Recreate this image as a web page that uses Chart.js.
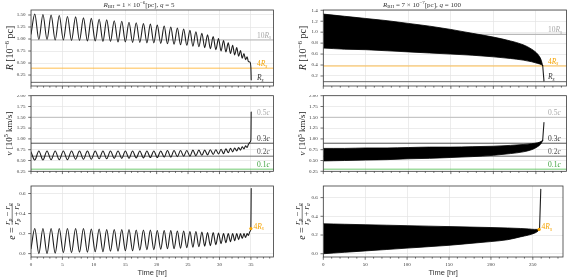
<!DOCTYPE html>
<html>
<head>
<meta charset="utf-8">
<script src="https://cdn.jsdelivr.net/npm/chart.js@4.4.1/dist/chart.umd.min.js"></script>
<style>
  html, body { margin: 0; padding: 0; background: #fff; }
  body { width: 567px; height: 279px; position: relative; overflow: hidden; }
  canvas { position: absolute; }
</style>
</head>
<body>
<canvas id="l0" width="283" height="95" style="left:0;top:0"></canvas>
<canvas id="r0" width="284" height="95" style="left:283px;top:0"></canvas>
<canvas id="l1" width="283" height="87" style="left:0;top:95px"></canvas>
<canvas id="r1" width="284" height="87" style="left:283px;top:95px"></canvas>
<canvas id="l2" width="283" height="97" style="left:0;top:182px"></canvas>
<canvas id="r2" width="284" height="97" style="left:283px;top:182px"></canvas>
<script>
// left run: R_BH = 1e-6 pc, q = 5  (turning points: start, then peak/trough pairs of R)
const leftTime = [0,
  0.6, 1.25,  1.9, 2.55,  3.2, 3.85,  4.5, 5.15,  5.8, 6.45,
  7.1, 7.72,  8.35, 8.98,  9.6, 10.22,  10.85, 11.45,  12.05, 12.65,
  13.25, 13.85,  14.45, 15.02,  15.6, 16.17,  16.75, 17.32,  17.9, 18.45,
  19.0, 19.55,  20.1, 20.65,  21.2, 21.72,  22.25, 22.77,  23.3, 23.8,
  24.3, 24.8,  25.3, 25.77,  26.25, 26.72,  27.2, 27.65,  28.1, 28.55,
  29.0, 29.42,  29.85, 30.25,  30.65, 31.02,  31.4, 31.75,  32.1, 32.42,
  32.75, 33.05,  33.35, 33.62,  33.9, 34.15,  34.4, 34.6,
  34.85, 35.0, 35.05];
const leftR = [1.10,
  1.52, 0.99,  1.51, 0.99,  1.50, 0.98,  1.49, 0.98,  1.47, 0.97,
  1.46, 0.97,  1.44, 0.96,  1.43, 0.96,  1.41, 0.95,  1.40, 0.95,
  1.38, 0.94,  1.37, 0.94,  1.35, 0.93,  1.34, 0.93,  1.32, 0.92,
  1.31, 0.92,  1.29, 0.91,  1.27, 0.90,  1.25, 0.89,  1.23, 0.88,
  1.21, 0.87,  1.18, 0.85,  1.15, 0.84,  1.12, 0.82,  1.09, 0.80,
  1.05, 0.78,  1.01, 0.75,  0.97, 0.73,  0.92, 0.70,  0.87, 0.67,
  0.82, 0.64,  0.76, 0.60,  0.70, 0.57,  0.63, 0.53,
  0.52, 0.40, 0.15];
const leftV = [0.70,
  0.51, 0.72,  0.51, 0.72,  0.52, 0.72,  0.52, 0.72,  0.52, 0.72,
  0.53, 0.72,  0.53, 0.72,  0.53, 0.72,  0.54, 0.72,  0.54, 0.72,
  0.55, 0.72,  0.55, 0.72,  0.55, 0.72,  0.56, 0.72,  0.56, 0.72,
  0.57, 0.72,  0.57, 0.72,  0.58, 0.73,  0.58, 0.73,  0.59, 0.73,
  0.60, 0.73,  0.60, 0.74,  0.61, 0.74,  0.62, 0.74,  0.63, 0.75,
  0.64, 0.75,  0.65, 0.76,  0.66, 0.77,  0.68, 0.78,  0.70, 0.79,
  0.72, 0.80,  0.74, 0.82,  0.77, 0.84,  0.80, 0.87,
  0.92, 0.97, 1.62];
const leftE = [0.05,
  0.25, 0.00,  0.25, 0.00,  0.25, 0.005,  0.25, 0.01,  0.25, 0.01,
  0.25, 0.015,  0.25, 0.015,  0.245, 0.02,  0.245, 0.02,  0.24, 0.025,
  0.24, 0.025,  0.24, 0.03,  0.24, 0.03,  0.235, 0.035,  0.235, 0.04,
  0.235, 0.04,  0.23, 0.045,  0.23, 0.05,  0.23, 0.05,  0.225, 0.055,
  0.225, 0.06,  0.22, 0.065,  0.22, 0.07,  0.215, 0.075,  0.21, 0.08,
  0.21, 0.09,  0.205, 0.10,  0.20, 0.11,  0.20, 0.12,  0.20, 0.13,
  0.20, 0.14,  0.20, 0.15,  0.20, 0.16,  0.20, 0.18,
  0.22, 0.25, 0.65];
const leftDot = [35.0, 0.25];

// right run: R_BH = 7e-7 pc, q = 100  (envelope of the dense oscillation)
const rightTime = [0, 25, 50, 75, 100, 125, 150, 175, 200, 220, 235, 245, 252, 256, 258];
const rightRUp  = [1.33, 1.29, 1.25, 1.21, 1.16, 1.11, 1.05, 0.98, 0.91, 0.84, 0.77, 0.69, 0.60, 0.50, 0.39];
const rightRLow = [0.71, 0.69, 0.68, 0.66, 0.64, 0.62, 0.60, 0.58, 0.55, 0.52, 0.49, 0.46, 0.43, 0.41, 0.39];
const rightVUp  = [0.78, 0.78, 0.79, 0.79, 0.80, 0.81, 0.81, 0.82, 0.83, 0.85, 0.87, 0.89, 0.91, 0.94, 0.97];
const rightVLow = [0.49, 0.50, 0.51, 0.52, 0.54, 0.55, 0.57, 0.59, 0.62, 0.66, 0.70, 0.75, 0.82, 0.89, 0.96];
const rightEUp  = [0.32, 0.315, 0.31, 0.305, 0.30, 0.295, 0.29, 0.285, 0.28, 0.275, 0.27, 0.265, 0.26, 0.26, 0.26];
const rightELow = [0.0, 0.015, 0.03, 0.045, 0.06, 0.075, 0.09, 0.11, 0.13, 0.15, 0.18, 0.20, 0.22, 0.24, 0.26];
const rightTailTime = [258, 259.5];
const rightRTail = [0.39, 0.11];
const rightVTail = [0.97, 1.38];
const rightETail = [0.26, 0.69];
const rightDot = [257.5, 0.26];

// ticks
const leftXTicks = [0, 5, 10, 15, 20, 25, 30, 35];
const rightXTicks = [0, 50, 100, 150, 200, 250];
const leftRTicks = [0.25, 0.5, 0.75, 1.0, 1.25, 1.5];
const rightRTicks = [0.2, 0.4, 0.6, 0.8, 1.0, 1.2, 1.4];
const vTicks = [0.25, 0.5, 0.75, 1.0, 1.25, 1.5, 1.75, 2.0];
const eTicks = [0.0, 0.2, 0.4, 0.6];

// reference levels: 10Rs, 4Rs, Rs  and 0.5c, 0.3c, 0.2c, 0.1c
const leftRLevels = [0.98, 0.392, 0.098];
const rightRLevels = [0.96, 0.384, 0.096];
const vLevels = [1.5, 0.9, 0.6, 0.3];

const SERIF = '"Liberation Serif", "DejaVu Serif", serif';
const ORANGE = '#f5a300';

function pts(xs, ys) { return xs.map((x, i) => ({ x: x, y: ys[i] })); }

function drawRich(ctx, parts, x, y, size, color, align) {
  let w = 0;
  const items = parts.map(([t, k]) => {
    const small = k.includes('_') || k.includes('^');
    const s = small ? size * 0.7 : size;
    const f = (k.includes('i') ? 'italic ' : '') + s + 'px ' + SERIF;
    ctx.font = f;
    const ww = ctx.measureText(t).width;
    w += ww;
    return { t, f, ww, dy: k.includes('_') ? size * 0.22 : k.includes('^') ? -size * 0.4 : 0 };
  });
  let cx = align === 'center' ? x - w / 2 : align === 'right' ? x - w : x;
  ctx.fillStyle = color;
  ctx.textAlign = 'left';
  ctx.textBaseline = 'alphabetic';
  items.forEach(p => { ctx.font = p.f; ctx.fillText(p.t, cx, y + p.dy); cx += p.ww; });
  return w;
}
function richWidth(ctx, parts, size) {
  let w = 0;
  parts.forEach(([t, k]) => {
    const small = k.includes('_') || k.includes('^');
    ctx.font = (k.includes('i') ? 'italic ' : '') + (small ? size * 0.7 : size) + 'px ' + SERIF;
    w += ctx.measureText(t).width;
  });
  return w;
}

const decor = {
  id: 'decor',
  afterDraw(chart, args, o) {
    const ctx = chart.ctx, a = chart.chartArea, xs = chart.scales.x, ys = chart.scales.y;
    ctx.save();
    // tick marks
    ctx.strokeStyle = '#333';
    ctx.lineWidth = 0.7;
    ctx.beginPath();
    for (let k = 0; k * o.xMinor <= xs.max + 1e-9; k++) {
      const px = xs.getPixelForValue(k * o.xMinor);
      const len = k % 5 === 0 ? 2.8 : 1.6;
      ctx.moveTo(px, a.bottom); ctx.lineTo(px, a.bottom + len);
    }
    ys.ticks.forEach(t => {
      const py = ys.getPixelForValue(t.value);
      ctx.moveTo(a.left - 2.8, py); ctx.lineTo(a.left, py);
    });
    ctx.stroke();
    // frame
    ctx.strokeStyle = '#3a3a3a';
    ctx.lineWidth = 0.8;
    ctx.strokeRect(a.left, a.top, a.right - a.left, a.bottom - a.top);
    // level labels
    (o.levels || []).forEach(l => {
      drawRich(ctx, l.parts, a.right + o.labelDx, ys.getPixelForValue(l.v) - 2.2, 7.5, l.color, 'left');
    });
    if (o.dot) {
      const px = xs.getPixelForValue(o.dot[0]), py = ys.getPixelForValue(o.dot[1]);
      drawRich(ctx, [['4', ''], ['R', 'i'], ['s', '_i']], px + 2.5, py, 7.5, ORANGE, 'left');
    }
    // panel title
    if (o.title) drawRich(ctx, o.title, o.titleX, 6.5, 7, '#333', 'center');
    // x axis title
    if (o.xtitle) {
      ctx.font = '7.5px "Liberation Sans", Arial, sans-serif';
      ctx.fillStyle = '#333';
      ctx.textAlign = 'center';
      ctx.textBaseline = 'middle';
      ctx.fillText('Time [hr]', (a.left + a.right) / 2, 91);
    }
    // y axis title
    ctx.translate(o.ytX, (a.top + a.bottom) / 2);
    ctx.rotate(-Math.PI / 2);
    if (o.ytitle === 'e') {
      const eParts = [['e', 'i'], [' = ', '']];
      const num = [['r', 'i'], ['p', '_i'], [' \u2212 ', ''], ['r', 'i'], ['a', '_i']];
      const den = [['r', 'i'], ['p', '_i'], [' + ', ''], ['r', 'i'], ['a', '_i']];
      const we = richWidth(ctx, eParts, 10);
      const wf = Math.max(richWidth(ctx, num, 8.5), richWidth(ctx, den, 8.5));
      const x0 = -(we + wf) / 2;
      drawRich(ctx, eParts, x0, 3.5, 10, '#222', 'left');
      const fc = x0 + we + wf / 2;
      drawRich(ctx, num, fc, -0.8, 8.5, '#222', 'center');
      drawRich(ctx, den, fc, 7.6, 8.5, '#222', 'center');
      ctx.strokeStyle = '#222';
      ctx.lineWidth = 0.6;
      ctx.beginPath();
      ctx.moveTo(fc - wf / 2, 1.2); ctx.lineTo(fc + wf / 2, 1.2);
      ctx.stroke();
    } else {
      drawRich(ctx, o.ytitle, 0, o.ytSize * 0.35, o.ytSize, '#222', 'center');
    }
    ctx.restore();
  }
};

function levelSets(levels, xmax, styles) {
  return levels.map((v, i) => ({
    data: [{ x: 0, y: v }, { x: xmax, y: v }],
    borderColor: styles[i][0], borderWidth: styles[i][1], pointRadius: 0, fill: false
  }));
}

function panel(id, cfg) {
  return new Chart(document.getElementById(id), {
    type: 'line',
    data: { datasets: cfg.datasets },
    options: {
      responsive: false,
      animation: false,
      devicePixelRatio: 1,
      parsing: true,
      layout: { padding: { top: cfg.padTop, right: cfg.padRight, left: 0, bottom: 0 } },
      elements: { point: { radius: 0 }, line: { borderJoinStyle: 'round', borderCapStyle: 'round' } },
      plugins: { legend: { display: false }, tooltip: { enabled: false }, decor: cfg.decor },
      scales: {
        x: {
          type: 'linear', min: 0, max: cfg.xmax,
          afterBuildTicks: s => { s.ticks = cfg.xticks.map(v => ({ value: v })); },
          afterFit: s => { s.height = cfg.xh; s.paddingLeft = 0; s.paddingRight = 0; },
          ticks: { display: cfg.xlabels, autoSkip: false, maxRotation: 0, padding: 4.5,
                   color: '#333', font: { family: SERIF, size: 5 } },
          grid: { color: '#e4e4e4', lineWidth: 0.7, drawTicks: false },
          border: { display: false }
        },
        y: {
          type: 'linear', min: cfg.ymin, max: cfg.ymax,
          afterBuildTicks: s => { s.ticks = cfg.yticks.map(v => ({ value: v })); },
          afterFit: s => { s.width = cfg.yw; s.paddingTop = 0; s.paddingBottom = 0; },
          ticks: { autoSkip: false, padding: 5.5, color: '#333', font: { family: SERIF, size: 5 },
                   callback: v => v.toFixed(cfg.ydec) },
          grid: { color: '#e4e4e4', lineWidth: 0.7, drawTicks: false },
          border: { display: false }
        }
      }
    },
    plugins: [decor]
  });
}

const curve = (data) => ({ data, borderColor: '#1e1e1e', borderWidth: 1.1, pointRadius: 0,
  fill: false, cubicInterpolationMode: 'monotone' });
const band = (data, fill) => ({ data, borderColor: '#000', backgroundColor: '#000', borderWidth: 0.8,
  pointRadius: 0, fill, cubicInterpolationMode: 'monotone' });
const dotSet = (d) => ({ data: [{ x: d[0], y: d[1] }], showLine: false, pointRadius: 1.6,
  pointBackgroundColor: ORANGE, pointBorderWidth: 0 });

const rStyles = [['#b8b8b8', 1.2], ['rgba(255,176,40,0.55)', 1.5], ['#666', 1]];
const vStyles = [['#bdbdbd', 1], ['#555', 1], ['#6a6a6a', 1], ['rgba(80,190,80,0.55)', 1.5]];
const rLabels = (lv) => [
  { v: lv[0], parts: [['10', ''], ['R', 'i'], ['s', '_i']], color: '#a8a8a8' },
  { v: lv[1], parts: [['4', ''], ['R', 'i'], ['s', '_i']], color: ORANGE },
  { v: lv[2], parts: [['R', 'i'], ['s', '_i']], color: '#333' }
];
const vLabels = [
  { v: vLevels[0], parts: [['0.5', ''], ['c', 'i']], color: '#a8a8a8' },
  { v: vLevels[1], parts: [['0.3', ''], ['c', 'i']], color: '#333' },
  { v: vLevels[2], parts: [['0.2', ''], ['c', 'i']], color: '#555' },
  { v: vLevels[3], parts: [['0.1', ''], ['c', 'i']], color: '#3aa03a' }
];
const rTitle = [['R', 'i'], [' [10', ''], ['\u22126', '^'], [' pc]', '']];
const vTitle = [['v', 'i'], [' [10', ''], ['5', '^'], [' km/s]', '']];

const L = { xmax: 38.6, xticks: leftXTicks, yw: 31, padRight: 9.5 };
const R = { xmax: 286, xticks: rightXTicks, yw: 40.3, padRight: 0.5 };

// top row: R
panel('l0', Object.assign({}, L, {
  padTop: 10, xh: 9, xlabels: false, ymin: 0.022, ymax: 1.604, yticks: leftRTicks, ydec: 2,
  datasets: [curve(pts(leftTime, leftR))].concat(levelSets(leftRLevels, L.xmax, rStyles)),
  decor: { xMinor: 1, labelDx: -16.5, levels: rLabels(leftRLevels), ytitle: rTitle, ytSize: 10, ytX: 9,
           title: [['R', 'i'], ['BH', '_'], [' = 1 \u00d7 10', ''], ['\u22126', '^'], ['[pc], ', ''], ['q', 'i'], [' = 5', '']],
           titleX: 139 }
}));
panel('r0', Object.assign({}, R, {
  padTop: 10, xh: 9, xlabels: false, ymin: 0.017, ymax: 1.405, yticks: rightRTicks, ydec: 1,
  datasets: [band(pts(rightTime, rightRUp), '+1'), band(pts(rightTime, rightRLow), false),
             curve(pts(rightTailTime, rightRTail))].concat(levelSets(rightRLevels, R.xmax, rStyles)),
  decor: { xMinor: 10, labelDx: -18.5, levels: rLabels(rightRLevels), ytitle: rTitle, ytSize: 10, ytX: 19,
           title: [['R', 'i'], ['BH', '_'], [' = 7 \u00d7 10', ''], ['\u22127', '^'], ['[pc], ', ''], ['q', 'i'], [' = 100', '']],
           titleX: 139 }
}));
// middle row: v
panel('l1', Object.assign({}, L, {
  padTop: 0.7, xh: 10.7, xlabels: false, ymin: 0.25, ymax: 2.0, yticks: vTicks, ydec: 2,
  datasets: [curve(pts(leftTime, leftV))].concat(levelSets(vLevels, L.xmax, vStyles)),
  decor: { xMinor: 1, labelDx: -16.5, levels: vLabels, ytitle: vTitle, ytSize: 9, ytX: 8.5 }
}));
panel('r1', Object.assign({}, R, {
  padTop: 0.7, xh: 10.7, xlabels: false, ymin: 0.25, ymax: 2.0, yticks: vTicks, ydec: 2,
  datasets: [band(pts(rightTime, rightVUp), '+1'), band(pts(rightTime, rightVLow), false),
             curve(pts(rightTailTime, rightVTail))].concat(levelSets(vLevels, R.xmax, vStyles)),
  decor: { xMinor: 10, labelDx: -18.5, levels: vLabels, ytitle: vTitle, ytSize: 9, ytX: 19 }
}));
// bottom row: e
panel('l2', Object.assign({}, L, {
  padTop: 0, xh: 22, xlabels: true, ymin: -0.034, ymax: 0.675, yticks: eTicks, ydec: 1,
  datasets: [dotSet(leftDot), curve(pts(leftTime, leftE))],
  decor: { xMinor: 1, ytitle: 'e', ytX: 11, dot: leftDot, xtitle: true }
}));
panel('r2', Object.assign({}, R, {
  padTop: 0, xh: 22, xlabels: true, ymin: -0.035, ymax: 0.724, yticks: eTicks, ydec: 1,
  datasets: [dotSet(rightDot), band(pts(rightTime, rightEUp), '+1'), band(pts(rightTime, rightELow), false),
             curve(pts(rightTailTime, rightETail))],
  decor: { xMinor: 10, ytitle: 'e', ytX: 18, dot: rightDot, xtitle: true }
}));
</script>
</body>
</html>
